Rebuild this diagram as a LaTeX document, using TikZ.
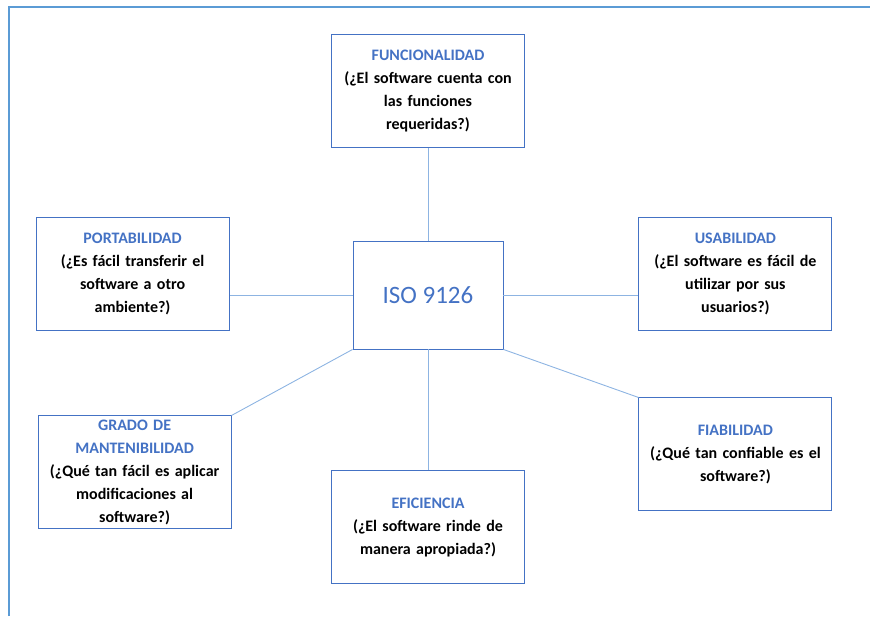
\documentclass[tikz,border=0pt]{standalone}
\usepackage{fontspec}
\setmainfont{Carlito}
\usepackage{xcolor}
\usepackage{tikz}
\usetikzlibrary{positioning}

\definecolor{isoblue}{HTML}{4472C4}
\definecolor{linkblue}{HTML}{8DB4E2}
\definecolor{frameblue}{HTML}{5B9BD5}

\newcommand{\ctitle}[1]{{\color{isoblue}#1}}

\begin{document}
\begin{tikzpicture}[
    x=1pt, y=-1pt,
    node distance=90pt and 120pt,
    quality/.style={draw=isoblue, line width=0.9pt, minimum width=193pt, minimum height=113pt, text width=188pt, align=center, inner sep=0pt, font=\fontsize{16}{23}\selectfont\bfseries},
    core/.style={draw=isoblue, line width=0.9pt, minimum width=150pt, minimum height=108pt, align=center, font=\fontsize{25}{30}\selectfont, text=isoblue},
    link/.style={draw=linkblue, line width=0.9pt},
]
\useasboundingbox (0,0) rectangle (870,616);

% outer frame
\draw[frameblue, line width=2pt] (8.5,616) |- (870,7);

% centre
\node[core] (iso) at (428,295) {ISO 9126};

% characteristics
\node[quality, above=93pt of iso] (fun) {\ctitle{FUNCIONALIDAD}\\(¿El software cuenta con\\las funciones\\requeridas?)};
\node[quality, left=123pt of iso, yshift=21pt] (port) {\ctitle{PORTABILIDAD}\\(¿Es fácil transferir el\\software a otro\\ambiente?)};
\node[quality, right=135pt of iso, yshift=21pt] (usab) {\ctitle{USABILIDAD}\\(¿El software es fácil de\\utilizar por sus\\usuarios?)};
\node[quality, below left=66pt and 121pt of iso] (grado) {\ctitle{GRADO DE}\\\ctitle{MANTENIBILIDAD}\\(¿Qué tan fácil es aplicar\\modificaciones al\\software?)};
\node[quality, below=121pt of iso] (efic) {\ctitle{EFICIENCIA}\\(¿El software rinde de\\manera apropiada?)};
\node[quality, below right=48pt and 135pt of iso] (fiab) {\ctitle{FIABILIDAD}\\(¿Qué tan confiable es el\\software?)};

% links
\draw[link] (iso) -- (fun);
\draw[link] (iso) -- (efic);
\draw[link] (iso.west) -- (iso.west -| port.east);
\draw[link] (iso.east) -- (iso.east -| usab.west);
\draw[link] (iso.south west) -- (grado.north east);
\draw[link] (iso.south east) -- (fiab.north west);

\end{tikzpicture}
\end{document}
